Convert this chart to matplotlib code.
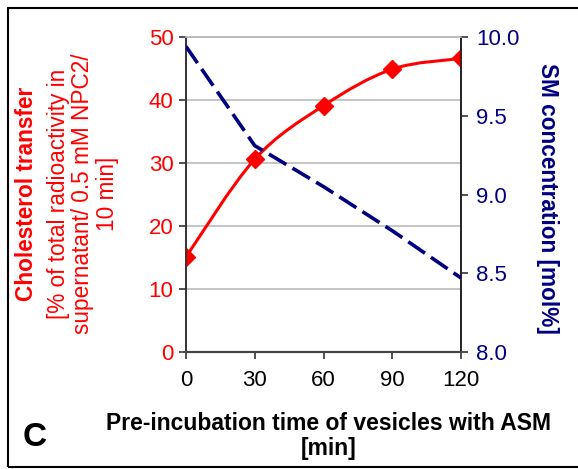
import matplotlib
matplotlib.use("Agg")
import matplotlib.pyplot as plt
from matplotlib.path import Path
from matplotlib.patches import PathPatch, Rectangle
import numpy as np

plt.rcParams['font.family'] = ['Liberation Sans', 'DejaVu Sans']

time_min = [0, 30, 60, 90, 120]
chol_transfer = [15.1, 30.6, 39.1, 44.9, 46.6]
sm_conc = [9.94, 9.31, 9.05, 8.77, 8.47]
x_ticks = [0, 30, 60, 90, 120]
left_ticks = [0, 10, 20, 30, 40, 50]
right_ticks = [8.0, 8.5, 9.0, 9.5, 10.0]

RED = '#FF0000'
NAVY = '#000080'

fig = plt.figure(figsize=(5.78, 4.69), dpi=100)
ax = fig.add_axes([186/578, 1-352/469, (461-186)/578, (352-37)/469])
ax2 = ax.twinx()

# smooth red curve (Catmull-Rom -> Bezier path through the data points)
xs = np.array(time_min, float)
ys = np.array(chol_transfer, float)
verts = [(xs[0], ys[0])]
codes = [Path.MOVETO]
n = len(xs)
for i in range(n - 1):
    p0 = (xs[max(i-1, 0)], ys[max(i-1, 0)])
    p1 = (xs[i], ys[i])
    p2 = (xs[i+1], ys[i+1])
    p3 = (xs[min(i+2, n-1)], ys[min(i+2, n-1)])
    t = 1/6
    c1 = (p1[0] + (p2[0]-p0[0])*t, p1[1] + (p2[1]-p0[1])*t)
    c2 = (p2[0] - (p3[0]-p1[0])*t, p2[1] - (p3[1]-p1[1])*t)
    verts += [c1, c2, p2]
    codes += [Path.CURVE4]*3
ax.add_patch(PathPatch(Path(verts, codes), fill=False, edgecolor=RED, lw=2.2, zorder=3))
ax.plot(time_min, chol_transfer, linestyle='none', marker='D', markersize=9,
        color=RED, zorder=4)

ax2.plot(time_min, sm_conc, color=NAVY, lw=2.6, dashes=(5.6, 2.0), zorder=3)

ax.set_xlim(0, 120)
ax.set_ylim(0, 50)
ax2.set_ylim(8.0, 10.0)
ax.set_xticks(x_ticks)
ax.set_yticks(left_ticks)
ax2.set_yticks(right_ticks)
ax2.set_yticklabels([f"{v:.1f}" for v in right_ticks])

ax.yaxis.grid(True, color='#BBBBBB', lw=1.2)
ax.set_axisbelow(True)

for a in (ax, ax2):
    a.spines['top'].set_color('#BBBBBB')
    a.spines['top'].set_linewidth(1.2)
    a.spines['bottom'].set_color('#444444')
    a.spines['bottom'].set_linewidth(1.5)
    a.spines['left'].set_color('#333333')
    a.spines['left'].set_linewidth(1.2)
    a.spines['right'].set_color('#222222')
    a.spines['right'].set_linewidth(1.2)

ax.tick_params(axis='y', colors='#333333', labelcolor=RED, labelsize=16,
               direction='out', length=5, width=1.2, pad=4)
ax.tick_params(axis='x', colors='#333333', labelcolor='black', labelsize=16,
               direction='out', length=5, width=1.2, pad=8)
ax2.tick_params(axis='y', colors='#333333', labelcolor=NAVY, labelsize=16,
                direction='out', length=5, width=1.2, pad=6)

# left axis label
fig.text(27/578, 1-194/469, 'Cholesterol transfer', rotation=90, ha='center',
         va='center', color=RED, fontsize=16.3, fontweight='bold')
fig.text(83/578, 1-194/469,
         '[% of total radioactivity in\nsupernatant/ 0.5 mM NPC2/\n10 min]',
         rotation=90, ha='center', va='center', color=RED, fontsize=16.3,
         multialignment='center', linespacing=1.08)

# right axis label
fig.text(548/578, 1-198/469, 'SM concentration [mol%]', rotation=270,
         ha='center', va='center', color=NAVY, fontsize=16.3, fontweight='bold')

# x label
fig.text(329/578, 1-436/469, 'Pre-incubation time of vesicles with ASM\n[min]',
         ha='center', va='center', fontsize=16.5, fontweight='bold',
         multialignment='center', linespacing=1.1)

fig.text(35/578, 1-437/469, 'C', ha='center', va='center', fontsize=24,
         fontweight='bold')

# figure border (open on the right)
fig.add_artist(Rectangle((7.5/578, 1-467/469), 1.0, (467-8)/469,
                         transform=fig.transFigure, fill=False,
                         edgecolor='black', lw=1.5))

fig.savefig('out.png', dpi=100)
